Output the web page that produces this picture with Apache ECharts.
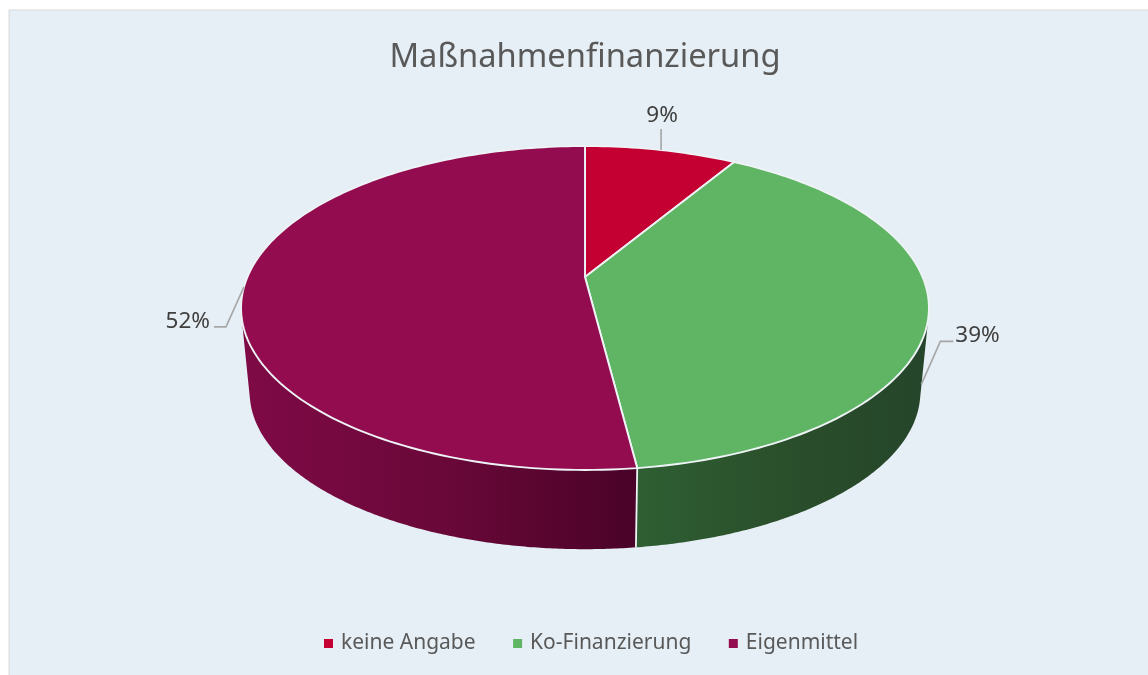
<!DOCTYPE html>
<html><head><meta charset="utf-8">
<style>html,body{margin:0;padding:0;background:#fff}#c{width:1148px;height:675px}</style>
<script src="https://cdn.jsdelivr.net/npm/echarts@6/dist/echarts.min.js"></script>
</head><body><div id="c"></div>
<script>
// ---- data ----
var categories = ['keine Angabe', 'Ko-Finanzierung', 'Eigenmittel'];
var shares = [8.6, 39.4, 52];
var chartTitle = 'Maßnahmenfinanzierung';

// ---- style ----
var topColors = ['#c40033', '#5fb564', '#930c50'];
var wallGradients = [
  ['#8a0024', '#5a0018'],
  ['#2f5f33', '#2a4f2b', '#25452a'],
  ['#7f0a46', '#6a0839', '#4a0328']
];
var FONT = '"Noto Sans", sans-serif';

// ---- perspective layout of the pie ----
var apex = {x: 585, y: 277};
var persp = {a: 337.6, b: 156.06, k: -0.1913};
var wall = {sx: 0.975, sy: 0.97, dy: 85};
// leader: fraction down the wall for the anchor, then offsets of the elbow, end and label from the anchor
var leaders = [
  {drop: 0, elbow: [0, -10], end: [0, -21], text: [1, -34], align: 'center'},
  {drop: 0.88, elbow: [19, -43], end: [32, -43], text: [34, -49], align: 'left'},
  {drop: 0, elbow: [-18, 40], end: [-30, 40], text: [-34, 35], align: 'right'}
];

var total = shares.reduce(function (s, v) { return s + v; }, 0);
var starts = [];
shares.reduce(function (s, v, i) { starts[i] = s; return s + v; }, 0);

function rim(share) {
  var t = share / total * 2 * Math.PI, u = Math.sin(t), v = -Math.cos(t), w = 1 + persp.k * v;
  return [persp.a * u / w, persp.b * v / w];
}
function topPt(share) { var p = rim(share); return [apex.x + p[0], apex.y + p[1]]; }
function lowPt(share) { var p = rim(share); return [apex.x + p[0] * wall.sx, apex.y + p[1] * wall.sy + wall.dy]; }
function arc(fn, from, to) {
  var pts = [], n = Math.max(8, Math.ceil((to - from) * 3));
  for (var i = 0; i <= n; i++) pts.push(fn(from + (to - from) * i / n));
  return pts;
}
// the wall faces the viewer where the rim tangent and the wall direction turn the front way
function faces(share) {
  var d = 0.05, a = topPt(share - d), b = topPt(share + d), t = topPt(share), l = lowPt(share);
  return (b[0] - a[0]) * (l[1] - t[1]) - (b[1] - a[1]) * (l[0] - t[0]) < 0;
}
function frontShares(from, to) {
  var out = [], n = Math.ceil((to - from) * 8);
  for (var i = 0; i <= n; i++) {
    var s = from + (to - from) * i / n;
    if (faces(s)) out.push(s);
  }
  return out;
}
var LG = echarts.graphic.LinearGradient;

function wallItem(params, api) {
  var i = params.dataIndex, s = starts[i], e = s + api.value(0);
  var front = frontShares(s, e);
  var children = [];
  if (front.length > 1) {
    var pts = front.map(topPt).concat(front.map(lowPt).reverse());
    var g = wallGradients[i];
    var stops = g.map(function (c, j) { return {offset: j / (g.length - 1), color: c}; });
    children.push({type: 'polygon', shape: {points: pts}, style: {fill: new LG(0, 0, 1, 0, stops)}});
  }
  if (e < total && faces(e)) {
    children.push({type: 'line', z2: 2,
      shape: {x1: topPt(e)[0], y1: topPt(e)[1], x2: lowPt(e)[0], y2: lowPt(e)[1]},
      style: {stroke: '#eef3f6', lineWidth: 1.8}});
  }
  return {type: 'group', children: children};
}

function topItem(i) {
  return function (params, api) {
    var s = starts[i], e = s + shares[i], mid = (s + e) / 2;
    var pts = [[apex.x, apex.y]].concat(arc(topPt, s, e));
    var l = leaders[i], a0 = topPt(mid), a1 = lowPt(mid);
    var anchor = [a0[0] + (a1[0] - a0[0]) * l.drop, a0[1] + (a1[1] - a0[1]) * l.drop];
    var at = function (o) { return [anchor[0] + o[0], anchor[1] + o[1]]; };
    return {type: 'group', children: [
      {type: 'polygon', shape: {points: pts}, style: {fill: topColors[i], stroke: '#eef3f6', lineWidth: 1.9, lineJoin: 'round'}},
      {type: 'polyline', shape: {points: [anchor, at(l.elbow), at(l.end)]}, style: {fill: 'none', stroke: '#a6a6a6', lineWidth: 1.6}},
      {type: 'text', x: at(l.text)[0], y: at(l.text)[1],
       style: {text: Math.round(shares[i] / total * 100) + '%', fill: '#404040', font: '400 22.5px ' + FONT, align: l.align, verticalAlign: 'middle'}}
    ]};
  };
}

var series = [{
  type: 'custom', name: 'wall', coordinateSystem: 'none', z: 2, silent: true,
  data: shares.map(function (v) { return [v]; }), renderItem: wallItem
}];
categories.forEach(function (name, i) {
  series.push({
    type: 'custom', name: name, coordinateSystem: 'none', z: 3, silent: true,
    itemStyle: {color: topColors[i]},
    data: [[shares[i]]], renderItem: topItem(i)
  });
});

var chart = echarts.init(document.getElementById('c'), null, {renderer: 'canvas'});
chart.setOption({
  animation: false,
  backgroundColor: '#ffffff',
  title: {text: chartTitle, left: 580, top: 36, textAlign: 'center',
    textStyle: {color: '#595959', fontFamily: 'Noto Sans', fontWeight: 400, fontSize: 32.7}},
  legend: {data: categories, left: 319, bottom: 16, icon: 'rect', itemWidth: 9, itemHeight: 9, itemGap: 37.5,
    selectedMode: false, textStyle: {color: '#595959', fontFamily: 'Noto Sans', fontSize: 21, padding: [0, 0, 0, 3]}},
  graphic: [{type: 'rect', z: -1, silent: true, shape: {x: 9, y: 10, width: 1160, height: 690},
    style: {fill: '#e6eff5', stroke: '#d9d9d9', lineWidth: 1}}],
  series: series
});
</script></body></html>
